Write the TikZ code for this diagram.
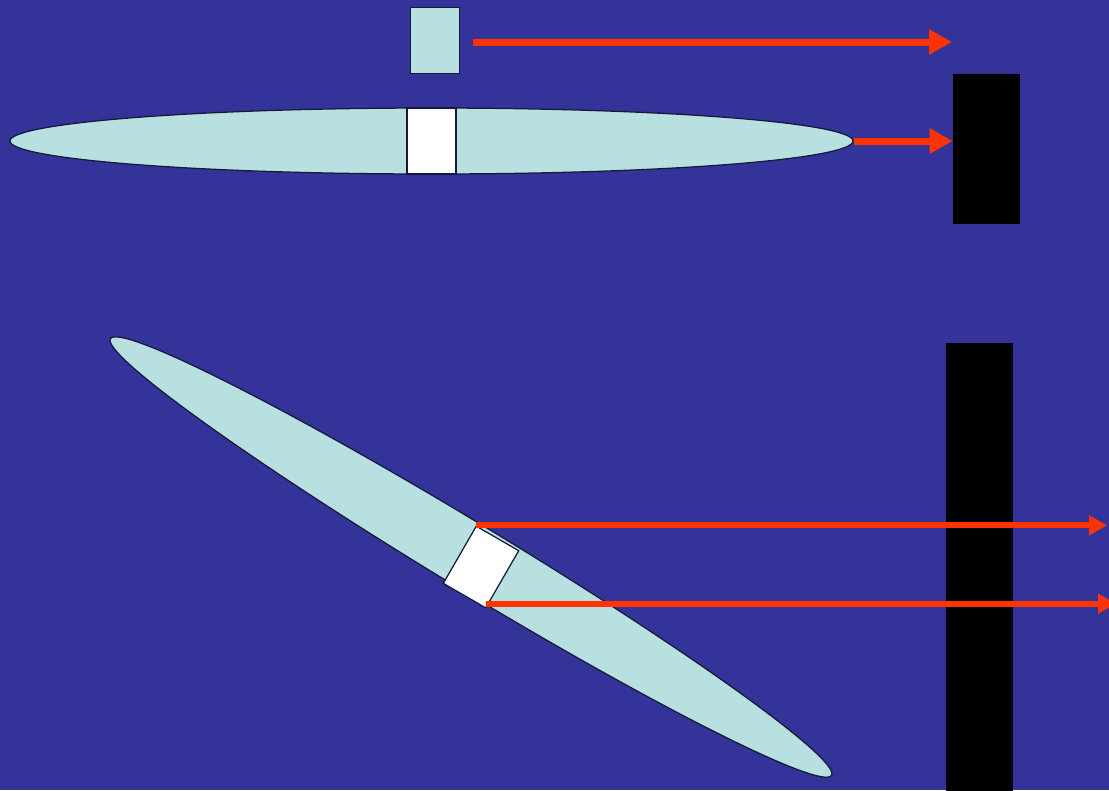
\documentclass[tikz,border=0pt]{standalone}
\usepackage{tikz}
\usetikzlibrary{arrows.meta,positioning,shapes.geometric}
\definecolor{navy}{HTML}{333399}
\definecolor{pale}{HTML}{B9E0E1}
\definecolor{beam}{HTML}{FF3300}
\definecolor{edge}{HTML}{141A3A}
\tikzset{
  ray/.style={-{Triangle[length=4.6mm,width=4.8mm]},line width=1.4mm,draw=beam},
  thinray/.style={-{Triangle[length=3.6mm,width=3.8mm]},line width=1.2mm,draw=beam},
  rod/.style={ellipse,draw=edge,line width=0.25mm,fill=pale,inner sep=0pt,
    minimum width=168.6mm,minimum height=13.2mm},
  slab/.style={rectangle,draw=edge,line width=0.25mm,fill=white,inner sep=0pt,
    minimum width=9.8mm,minimum height=13.2mm},
  paleslab/.style={slab,fill=pale},
  screen/.style={rectangle,fill=black,inner sep=0pt,minimum width=13.4mm}
}
\begin{document}
\begin{tikzpicture}[x=0.2mm,y=-0.2mm]
  \useasboundingbox (0,0) rectangle (1109,790);
  \fill[navy] (0,0) rectangle (1109,790);

  % upper case: rod lying flat
  \node[rod] (flat) at (431.5,141) {};
  \node[slab] (cut) at (flat.center) {};
  \node[paleslab,above=6.6mm of cut,xshift=0.7mm] (piece) {};
  \node[screen,minimum height=30mm] (wall) at (986.5,149) {};
  \coordinate (src) at (473,42);
  \coordinate (dst) at (952,42);
  \draw[ray] (src) -- (dst);
  \draw[ray] (flat.east) -- (flat.east -| wall.west);

  % lower case: tilted rod
  \node[rod,rotate=-31.2] (tilt) at (471,557) {};
  \node[slab,rotate=-30] (tcut) at (481,567) {};
  \node[screen,minimum height=90mm] (wall2) at (979,568) {};
  \coordinate (out1) at (1107,526);
  \coordinate (out2) at (1116,603);
  \draw[thinray] (tcut.north west) -- (tcut.north west -| out1);
  \draw[thinray] ([yshift=1mm]tcut.south east) -- ([yshift=1mm]tcut.south east -| out2);
\end{tikzpicture}
\end{document}
